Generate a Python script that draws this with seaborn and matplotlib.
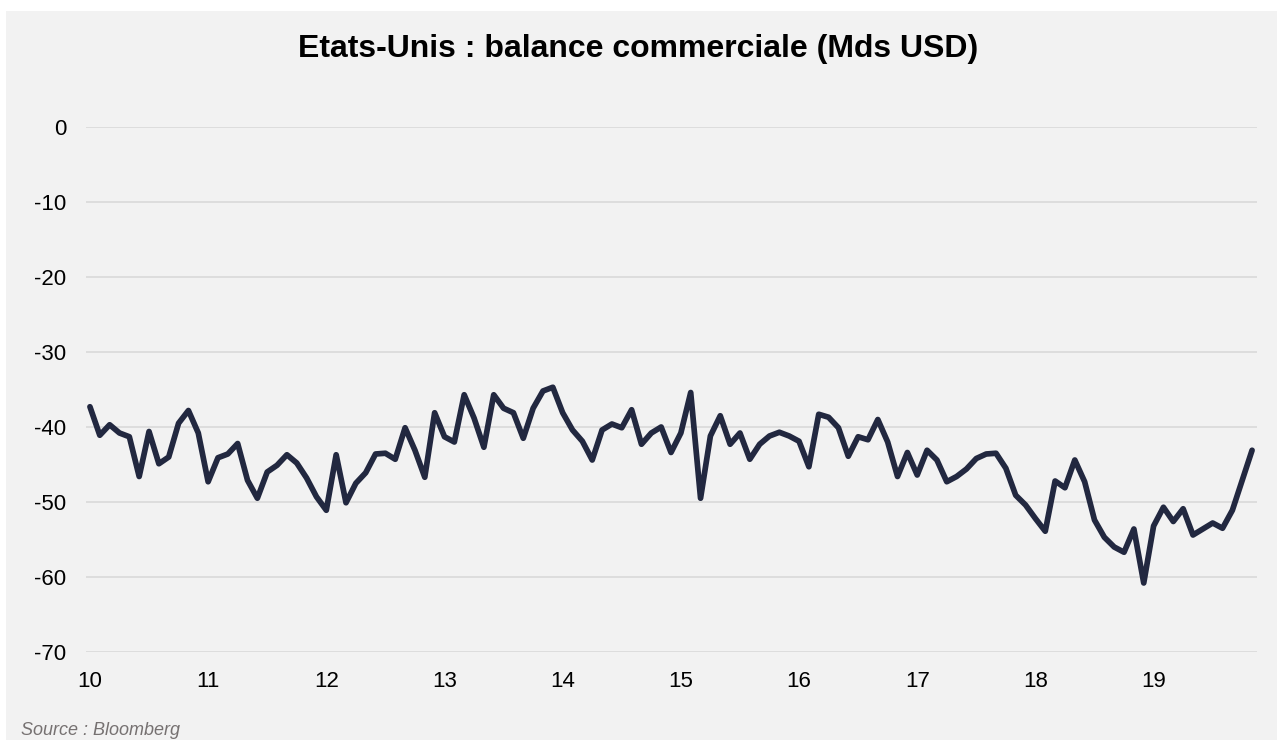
import numpy as np
import pandas as pd
import matplotlib.pyplot as plt
import seaborn as sns

# US trade balance, monthly, Jan 2010 -> Nov 2019 (bn USD)
y2010 = [-37.3, -41.1, -39.7, -40.8, -41.3, -46.6, -40.6, -44.9, -44.0, -39.5, -37.8, -40.8]
y2011 = [-47.3, -44.1, -43.6, -42.2, -47.1, -49.5, -46.0, -45.1, -43.7, -44.8, -46.8, -49.3]
y2012 = [-51.1, -43.7, -50.1, -47.5, -46.1, -43.6, -43.5, -44.3, -40.1, -43.1, -46.7, -38.1]
y2013 = [-41.3, -42.0, -35.7, -38.8, -42.7, -35.7, -37.5, -38.1, -41.5, -37.5, -35.2, -34.7]
y2014 = [-38.1, -40.4, -41.9, -44.4, -40.4, -39.6, -40.1, -37.7, -42.3, -40.8, -40.0, -43.4]
y2015 = [-40.8, -35.4, -49.5, -41.2, -38.5, -42.3, -40.8, -44.3, -42.3, -41.2, -40.7, -41.2]
y2016 = [-41.9, -45.3, -38.3, -38.7, -40.1, -43.9, -41.3, -41.7, -39.0, -42.0, -46.6, -43.4]
y2017 = [-46.4, -43.1, -44.4, -47.3, -46.6, -45.6, -44.2, -43.6, -43.5, -45.5, -49.1, -50.4]
y2018 = [-52.2, -53.9, -47.2, -48.1, -44.4, -47.3, -52.4, -54.7, -56.0, -56.7, -53.6, -60.8]
y2019 = [-53.2, -50.7, -52.6, -50.9, -54.4, -53.6, -52.8, -53.5, -51.1, -47.1, -43.1]

year_labels = ["10", "11", "12", "13", "14", "15", "16", "17", "18", "19"]
y_ticks = [0, -10, -20, -30, -40, -50, -60, -70]

values = y2010 + y2011 + y2012 + y2013 + y2014 + y2015 + y2016 + y2017 + y2018 + y2019
df = pd.DataFrame({"mois": np.arange(len(values)), "balance": values})

bg = "#F2F2F2"
sns.set_style("white")
plt.rcParams['font.family'] = ['Liberation Sans', 'DejaVu Sans']

fig = plt.figure(figsize=(12.77, 7.40), dpi=100, facecolor="white")
# grey panel (small white margin top/left like the original)
fig.patches.append(plt.Rectangle((6 / 1277, 0), 1, 1 - 11 / 740, transform=fig.transFigure,
                                 facecolor=bg, edgecolor="none", zorder=-10))
ax = fig.add_axes([86 / 1277, 1 - 652 / 740, (1257 - 86) / 1277, (652 - 127) / 740])
ax.set_facecolor(bg)

sns.lineplot(data=df, x="mois", y="balance", ax=ax, color="#222840", linewidth=4.1,
             solid_capstyle="round", solid_joinstyle="round", zorder=3)

ax.set_xlim(-0.4, 118.5)
ax.set_ylim(-70, 0)
ax.set_yticks(y_ticks)
ax.set_yticklabels([str(t) for t in y_ticks])
ax.set_xticks(np.arange(0, 12 * len(year_labels), 12))
ax.set_xticklabels(year_labels)
ax.tick_params(axis="both", length=0, labelsize=16, colors="black", pad=14)
for t in y_ticks:
    ax.axhline(t, color="#D9D9D9", linewidth=1.2, zorder=1)
for s in ax.spines.values():
    s.set_visible(False)
ax.set_xlabel("")
ax.set_ylabel("")

fig.text(0.5, 1 - 57 / 740, "Etats-Unis : balance commerciale (Mds USD)", ha="center",
         va="baseline", fontsize=23, fontweight="bold", color="black")
fig.text(21 / 1277, 1 - 735 / 740, "Source : Bloomberg", ha="left", va="baseline",
         fontsize=13, style="italic", color="#767171")

fig.savefig("out.png", dpi=100, facecolor="white")
